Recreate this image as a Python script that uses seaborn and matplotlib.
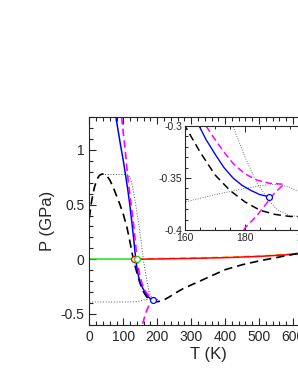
import numpy as np
import pandas as pd
import matplotlib
matplotlib.use("Agg")
import matplotlib.pyplot as plt
import seaborn as sns
from matplotlib.ticker import MultipleLocator, FuncFormatter

# данные (T в K, P в ГПа)
black_T = [0, 5, 10, 15, 20, 25, 30, 38, 45, 52, 60, 70, 80, 90, 100, 110, 117, 122, 127, 132,
           138, 144, 150, 155, 160, 165, 170, 175, 180, 185, 190, 195, 200, 205, 210, 220, 235,
           250, 275, 300, 350, 400, 450, 500, 550, 600, 650, 700]
black_P = [0.38, 0.50, 0.59, 0.66, 0.71, 0.745, 0.768, 0.78, 0.775, 0.76, 0.725, 0.66, 0.58,
           0.50, 0.41, 0.30, 0.20, 0.12, 0.04, -0.03, -0.10, -0.17, -0.225, -0.265, -0.30,
           -0.325, -0.347, -0.362, -0.373, -0.381, -0.385, -0.387, -0.387, -0.385, -0.381,
           -0.37, -0.345, -0.315, -0.27, -0.235, -0.165, -0.095, -0.05, -0.015, 0.015, 0.045,
           0.08, 0.115]

blue_T = [78, 85, 92, 100, 107, 113, 119, 124, 128, 132, 136, 140, 145, 150, 155, 160, 164.7,
          167, 170, 173, 176, 179, 182, 185, 188]
blue_P = [1.3, 1.17, 1.04, 0.9, 0.76, 0.64, 0.5, 0.37, 0.26, 0.14, 0.02, -0.08, -0.16, -0.21,
          -0.25, -0.28, -0.30, -0.313, -0.327, -0.34, -0.35, -0.357, -0.362, -0.366, -0.368]

magenta_T = [95, 100, 105, 110, 115, 120, 126, 131, 135, 139, 143, 148, 153, 158, 163, 167,
             170, 173, 176, 180, 184, 188, 193,
             190, 187, 184, 180, 175, 170, 165, 160, 156]
magenta_P = [1.3, 1.15, 1.02, 0.85, 0.7, 0.57, 0.42, 0.3, 0.17, 0.05, -0.05, -0.14, -0.2,
             -0.245, -0.28, -0.30, -0.313, -0.325, -0.336, -0.346, -0.352, -0.355, -0.356,
             -0.364, -0.375, -0.386, -0.398, -0.425, -0.46, -0.505, -0.555, -0.6]

dot1_T = [38, 111, 116, 121, 126, 131, 136, 141, 146, 151, 155, 159, 163, 167, 171, 176, 180,
          184, 188, 191, 195, 200, 205]
dot1_P = [0.775, 0.775, 0.765, 0.735, 0.68, 0.6, 0.51, 0.41, 0.31, 0.2, 0.1, 0.0, -0.08,
          -0.15, -0.22, -0.30, -0.33, -0.355, -0.372, -0.381, -0.386, -0.388, -0.385]

dot2_T = [0, 120, 135, 148, 160, 170, 180, 186, 191, 195, 200, 205]
dot2_P = [-0.39, -0.39, -0.388, -0.382, -0.373, -0.366, -0.36, -0.357, -0.356, -0.359,
          -0.366, -0.374]

green_T = [0, 140]
green_P = [0, 0]

red_T = [130, 200, 300, 400, 500, 600, 700]
red_P = [0.0, 0.003, 0.008, 0.015, 0.026, 0.045, 0.07]

orange_T = [140, 200, 300, 400, 500, 600, 700]
orange_P = [0.004, 0.007, 0.012, 0.019, 0.03, 0.049, 0.074]

pts_T = [130, 140, 188]
pts_P = [0.0, 0.0, -0.368]
pts_c = ['red', '#22cc22', 'blue']

sns.set_style('ticks')
plt.rcParams['font.family'] = ['Liberation Sans', 'DejaVu Sans']


def draw_curves(ax, lw=1.0):
    sns.lineplot(x=dot1_T, y=dot1_P, ax=ax, sort=False, estimator=None, color='#555555',
                 lw=0.7 * lw, linestyle=(0, (1, 1.8)))
    sns.lineplot(x=dot2_T, y=dot2_P, ax=ax, sort=False, estimator=None, color='#555555',
                 lw=0.7 * lw, linestyle=(0, (1, 1.8)))
    sns.lineplot(x=green_T, y=green_P, ax=ax, sort=False, estimator=None, color='#22dd22', lw=1.1 * lw)
    sns.lineplot(x=orange_T, y=orange_P, ax=ax, sort=False, estimator=None, color='orange',
                 lw=1.1 * lw, linestyle=(0, (4, 3)))
    sns.lineplot(x=red_T, y=red_P, ax=ax, sort=False, estimator=None, color='red', lw=1.1 * lw)
    sns.lineplot(x=black_T, y=black_P, ax=ax, sort=False, estimator=None, color='black',
                 lw=1.2 * lw, linestyle=(0, (5, 3)))
    sns.lineplot(x=blue_T, y=blue_P, ax=ax, sort=False, estimator=None, color='blue', lw=1.1 * lw)
    sns.lineplot(x=magenta_T, y=magenta_P, ax=ax, sort=False, estimator=None, color='magenta',
                 lw=1.2 * lw, linestyle=(0, (4.5, 2.5)))
    for t, p, c in zip(pts_T, pts_P, pts_c):
        sns.scatterplot(x=[t], y=[p], ax=ax, s=18, facecolor='white', edgecolor=c,
                        linewidth=0.9, zorder=5)


fmt = FuncFormatter(lambda v, pos: ('%g' % v).replace('\u2212', '-'))

fig = plt.figure(figsize=(2.98, 3.85), dpi=100)
ax = fig.add_axes([0.300, 0.156, 0.797, 0.540])
draw_curves(ax)
ax.set_xlim(0, 700)
ax.set_ylim(-0.6, 1.3)
ax.xaxis.set_major_locator(MultipleLocator(100))
ax.xaxis.set_minor_locator(MultipleLocator(20))
ax.yaxis.set_major_locator(MultipleLocator(0.5))
ax.yaxis.set_minor_locator(MultipleLocator(0.1))
ax.yaxis.set_major_formatter(fmt)
ax.tick_params(which='both', direction='in', top=True, right=True, labelsize=10, width=0.8)
ax.tick_params(which='major', length=5)
ax.tick_params(which='minor', length=3)
ax.set_xlabel('T (K)', fontsize=12, labelpad=2)
ax.set_ylabel('P (GPa)', fontsize=12, labelpad=4)

ins = fig.add_axes([0.621, 0.4026, 0.503, 0.270])
draw_curves(ins, lw=0.9)
ins.set_xlim(160, 210)
ins.set_ylim(-0.4, -0.3)
ins.xaxis.set_major_locator(MultipleLocator(20))
ins.xaxis.set_minor_locator(MultipleLocator(5))
ins.yaxis.set_major_locator(MultipleLocator(0.05))
ins.yaxis.set_minor_locator(MultipleLocator(0.01))
ins.yaxis.set_major_formatter(fmt)
ins.tick_params(which='both', direction='in', top=True, right=True, labelsize=7.5, width=0.7, pad=2)
ins.tick_params(which='major', length=4)
ins.tick_params(which='minor', length=2.5)
ins.set_xlabel('')
ins.set_ylabel('')

fig.savefig('out.png', dpi=100)
